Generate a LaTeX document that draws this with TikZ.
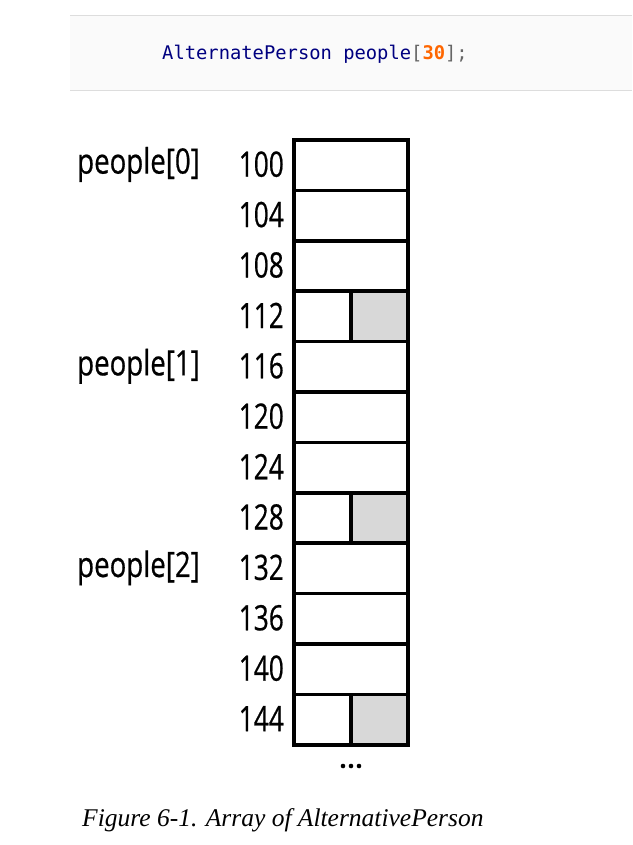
\documentclass[tikz,border=0pt]{standalone}
\usepackage{fontspec}
\setmainfont{Liberation Serif}
\newfontfamily\labfont[FakeStretch=0.75,FakeBold=0.5]{Open Sans}
\newfontfamily\elemfont[FakeStretch=0.79,FakeBold=0.5]{Open Sans}
\newfontfamily\codefont{DejaVu Sans Mono}
\definecolor{codebg}{HTML}{FAFAFA}
\definecolor{codeline}{HTML}{DDDDDD}
\definecolor{codenavy}{HTML}{000080}
\definecolor{codeorange}{HTML}{FF6600}
\definecolor{codegray}{HTML}{666666}
\definecolor{cellgray}{HTML}{D8D8D8}
\begin{document}
\begin{tikzpicture}[x=1pt,y=-1pt,
  cell/.style={draw=black,line width=3.6pt},
  addr/.style={font=\labfont\fontsize{35}{40}\selectfont,anchor=east,inner sep=0pt},
  elem/.style={font=\elemfont\fontsize{35}{40}\selectfont,anchor=west,inner sep=0pt},
  dot/.style={fill=black,circle,inner sep=0pt,minimum size=4.6pt},
]
\useasboundingbox (0,0) rectangle (632,845);
% code box
\fill[codebg] (70,16) rectangle (632,91);
\draw[codeline,line width=1pt] (70,16) -- (632,16);
\draw[codeline,line width=1pt] (70,91) -- (632,91);
\node[anchor=west,inner sep=0pt,font=\codefont\fontsize{18.8}{22}\selectfont] (code) at (162,54)
  {\textcolor{codenavy}{AlternatePerson people}\textcolor{codegray}{[}\textcolor{codeorange}{\bfseries 30}\textcolor{codegray}{];}};
% cells
\foreach \i/\a in {0/100,1/104,2/108,3/112,4/116,5/120,6/124,7/128,8/132,9/136,10/140,11/144}{
  \pgfmathsetmacro{\yc}{139+(\i+0.5)*50.4}
  \node[addr] (a\i) at (284,\yc) {\a};
}
\foreach \i in {3,7,11}{
  \pgfmathsetmacro{\yt}{140+\i*50.4}
  \pgfmathsetmacro{\yb}{140+(\i+1)*50.4}
  \fill[cellgray] (351,\yt) rectangle (408,\yb);
  \draw[line width=3.6pt] (351,\yt) -- (351,\yb);
}
\foreach \i in {1,...,11}{
  \pgfmathsetmacro{\yt}{140+\i*50.4}
  \draw[line width=3.6pt] (294,\yt) -- (408,\yt);
}
\draw[cell] (294,140) rectangle (408,745);
% element labels
\node[elem] (p0) at (77,164.5) {people[0]};
\node[elem] (p1) at (77,366.3) {people[1]};
\node[elem] (p2) at (77,567.9) {people[2]};
% dots
\node[dot] (d1) at (343,766) {};
\node[dot] (d2) at (351,766) {};
\node[dot] (d3) at (359,766) {};
% caption
\node[anchor=west,inner sep=0pt,font=\itshape\fontsize{25.5}{30}\selectfont] (cap) at (82,820) {Figure 6-1. Array of AlternativePerson};
\end{tikzpicture}
\end{document}
